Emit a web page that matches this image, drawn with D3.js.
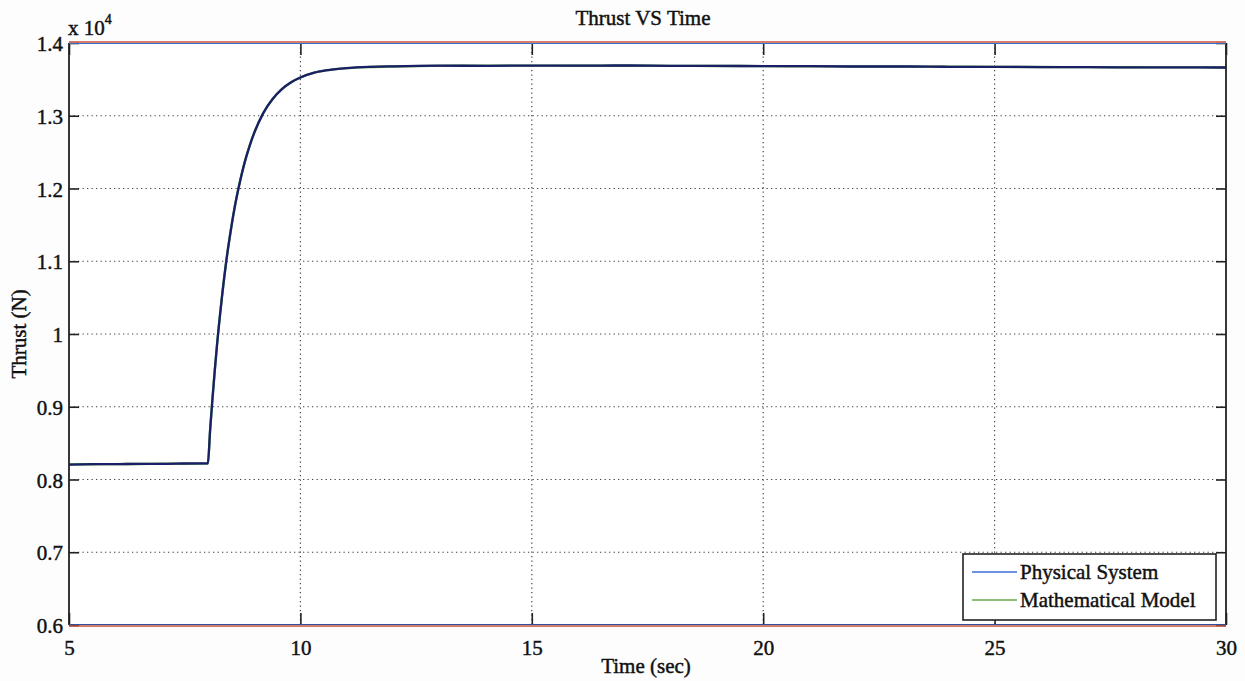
<!DOCTYPE html>
<html>
<head>
<meta charset="utf-8">
<script src="https://cdn.jsdelivr.net/npm/d3@7"></script>
<style>
  html, body { margin: 0; padding: 0; background: #ffffff; }
  svg text { font-family: "Liberation Serif", "Times New Roman", serif; fill: #111; stroke: #111; stroke-width: 0.45px; }
</style>
</head>
<body>
<svg id="chart" width="1245" height="681"></svg>
<script>
// ---- data ----
const chartTitle = "Thrust VS Time";
const xLabel = "Time (sec)";
const yLabel = "Thrust (N)";
const seriesNames = ["Physical System", "Mathematical Model"];

const xTicks = [5, 10, 15, 20, 25, 30];
const yTicks = [0.6, 0.7, 0.8, 0.9, 1, 1.1, 1.2, 1.3, 1.4];   // in units of 10^4
const yTickLabels = ["0.6", "0.7", "0.8", "0.9", "1", "1.1", "1.2", "1.3", "1.4"];

const time = [5, 5.5, 6, 6.5, 7, 7.5, 7.99, 8.0, 8.05, 8.1, 8.15, 8.2, 8.3, 8.4, 8.5, 8.6, 8.7, 8.8, 8.9, 9.0,
              9.2, 9.4, 9.6, 9.8, 10, 10.3, 10.6, 11, 11.5, 12, 13, 14, 15, 16, 17, 18, 19, 20,
              21, 22, 23, 24, 25, 26, 27, 28, 29, 30];

// Thrust (N)
const physical = [8205, 8212, 8210, 8216, 8214, 8220, 8222, 8222, 8690, 9110, 9500, 9860, 10480, 11010, 11440, 11810, 12110, 12370, 12580, 12760,
                  13040, 13230, 13365, 13460, 13525, 13592, 13628, 13655, 13672, 13680, 13688, 13686, 13690, 13688, 13691, 13686, 13685, 13683,
                  13681, 13677, 13677, 13673, 13672, 13669, 13668, 13665, 13666, 13663];
const model    = [8208, 8210, 8212, 8214, 8216, 8218, 8220, 8220, 8686, 9113, 9503, 9860, 10484, 11006, 11443, 11808, 12114, 12370, 12584, 12763,
                  13038, 13230, 13365, 13460, 13526, 13592, 13627, 13654, 13670, 13678, 13686, 13688, 13689, 13688, 13687, 13686, 13684, 13682,
                  13680, 13678, 13676, 13674, 13672, 13670, 13668, 13666, 13665, 13664];

// ---- layout ----
const svg = d3.select("#chart");
const L = 69, R = 1226, T = 43, B = 625;
const x = d3.scaleLinear().domain([5, 30]).range([L, R]);
const y = d3.scaleLinear().domain([0.6, 1.4]).range([B, T]);

svg.append("rect").attr("width", 1245).attr("height", 681).attr("fill", "#fdfdfd");
svg.append("rect").attr("x", L).attr("y", T).attr("width", R - L).attr("height", B - T).attr("fill", "#ffffff");

// grid
const grid = svg.append("g").attr("stroke", "#444").attr("stroke-width", 1.2).attr("stroke-dasharray", "1.3,3.2");
grid.selectAll("line.gx").data(xTicks.slice(1, -1)).enter().append("line")
  .attr("x1", d => x(d)).attr("x2", d => x(d)).attr("y1", T).attr("y2", B);
grid.selectAll("line.gy").data(yTicks.slice(1, -1)).enter().append("line")
  .attr("x1", L).attr("x2", R).attr("y1", d => y(d)).attr("y2", d => y(d));

// axes via d3
const xAxisB = d3.axisBottom(x).tickValues(xTicks).tickSize(-12).tickPadding(12).tickFormat(d3.format("d"));
const xAxisT = d3.axisTop(x).tickValues(xTicks).tickSize(-12).tickFormat("");
const yAxisL = d3.axisLeft(y).tickValues(yTicks).tickSize(-10).tickPadding(6).tickFormat((d, i) => yTickLabels[i]);
const yAxisR = d3.axisRight(y).tickValues(yTicks).tickSize(-10).tickFormat("");

function styleAxis(g) {
  g.select(".domain").remove();
  g.selectAll(".tick line").attr("stroke", "#222").attr("stroke-width", 1.6);
  g.selectAll(".tick text").attr("font-size", 21).attr("fill", "#111")
    .style("font-family", "'Liberation Serif', 'Times New Roman', serif");
}
svg.append("g").attr("transform", `translate(0,${B})`).call(xAxisB).call(styleAxis)
  .selectAll(".tick text").attr("dy", "0.85em");
svg.append("g").attr("transform", `translate(0,${T})`).call(xAxisT).call(styleAxis);
svg.append("g").attr("transform", `translate(${L},0)`).call(yAxisL).call(styleAxis)
  .selectAll(".tick text").attr("dy", "0.36em");
svg.append("g").attr("transform", `translate(${R},0)`).call(yAxisR).call(styleAxis);

// data lines
const line = d3.line().x((d, i) => x(time[i])).y(d => y(d / 10000)).curve(d3.curveMonotoneX);
svg.append("path").datum(model).attr("d", line).attr("fill", "none")
  .attr("stroke", "#5aa845").attr("stroke-width", 2.4);
svg.append("path").datum(physical).attr("d", line).attr("fill", "none")
  .attr("stroke", "#1a1f68").attr("stroke-width", 2.3);

// frame
svg.append("line").attr("x1", L).attr("x2", L).attr("y1", T).attr("y2", B).attr("stroke", "#222").attr("stroke-width", 1.8);
svg.append("line").attr("x1", R).attr("x2", R).attr("y1", T).attr("y2", B).attr("stroke", "#222").attr("stroke-width", 1.8);
svg.append("line").attr("x1", L).attr("x2", R).attr("y1", T - 1).attr("y2", T - 1).attr("stroke", "#c8503a").attr("stroke-width", 1.4);
svg.append("line").attr("x1", L).attr("x2", R).attr("y1", T + 0.5).attr("y2", T + 0.5).attr("stroke", "#3a6fc8").attr("stroke-width", 1);
svg.append("line").attr("x1", L).attr("x2", R).attr("y1", B - 0.5).attr("y2", B - 0.5).attr("stroke", "#3050a0").attr("stroke-width", 1);
svg.append("line").attr("x1", L).attr("x2", R).attr("y1", B + 1).attr("y2", B + 1).attr("stroke", "#c8503a").attr("stroke-width", 1.4);

// exponent label
const ex = svg.append("text").attr("x", 68).attr("y", 35).attr("font-size", 21);
ex.append("tspan").text("x 10");
ex.append("tspan").attr("dy", -11).attr("font-size", 14).text("4");

// title and axis labels
svg.append("text").attr("x", 643).attr("y", 25).attr("text-anchor", "middle").attr("font-size", 21).text(chartTitle);
svg.append("text").attr("x", 646).attr("y", 673).attr("text-anchor", "middle").attr("font-size", 21).text(xLabel);
svg.append("text").attr("transform", `translate(26,${(T + B) / 2}) rotate(-90)`)
  .attr("text-anchor", "middle").attr("font-size", 21).text(yLabel);

// legend
const lg = svg.append("g");
lg.append("rect").attr("x", 963).attr("y", 554).attr("width", 253).attr("height", 66)
  .attr("fill", "#ffffff").attr("stroke", "#222").attr("stroke-width", 1.6);
const legColors = ["#3d6fd6", "#6aaa4a"];
const legY = [572, 600];
seriesNames.forEach((name, i) => {
  lg.append("line").attr("x1", 972).attr("x2", 1017).attr("y1", legY[i]).attr("y2", legY[i])
    .attr("stroke", legColors[i]).attr("stroke-width", 1.6);
  lg.append("text").attr("x", 1020).attr("y", legY[i] + 7).attr("font-size", 21).text(name);
});
</script>
</body>
</html>
